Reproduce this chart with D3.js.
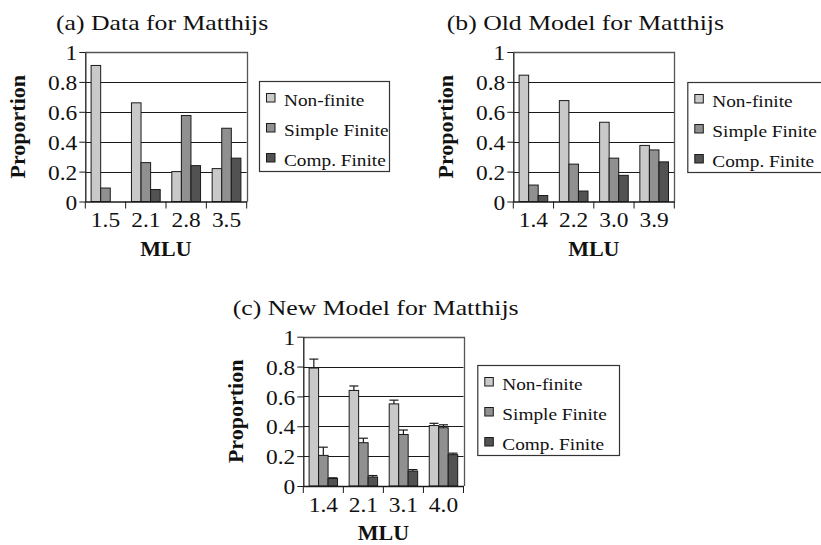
<!DOCTYPE html>
<html>
<head>
<meta charset="utf-8">
<script src="https://cdn.jsdelivr.net/npm/d3@7"></script>
<style>
  body { margin: 0; background: #fff; }
  svg { display: block; }
  text { font-family: "Liberation Serif", "Times New Roman", serif; fill: #111; }
</style>
</head>
<body>
<div id="chart"></div>
<script>
// series + shared ticks
const seriesNames = ["Non-finite", "Simple Finite", "Comp. Finite"];
const seriesColors = ["#c9c9c9", "#909090", "#525252"];
const yTicks = [0, 0.2, 0.4, 0.6, 0.8, 1];

// (a) Data for Matthijs
const mluA = ["1.5", "2.1", "2.8", "3.5"];
const nonFiniteA = [0.91, 0.66, 0.20, 0.22];
const simpleA = [0.09, 0.26, 0.575, 0.49];
const compA = [0, 0.08, 0.24, 0.29];

// (b) Old Model for Matthijs
const mluB = ["1.4", "2.2", "3.0", "3.9"];
const nonFiniteB = [0.845, 0.675, 0.53, 0.375];
const simpleB = [0.11, 0.25, 0.29, 0.345];
const compB = [0.04, 0.07, 0.175, 0.265];

// (c) New Model for Matthijs (with upper error bars)
const mluC = ["1.4", "2.1", "3.1", "4.0"];
const nonFiniteC = [0.79, 0.64, 0.55, 0.405];
const simpleC = [0.205, 0.29, 0.345, 0.39];
const compC = [0.05, 0.06, 0.10, 0.21];
const nonFiniteErrC = [0.85, 0.67, 0.575, 0.42];
const simpleErrC = [0.26, 0.32, 0.375, 0.41];
const compErrC = [0.055, 0.07, 0.11, 0.22];

const width = 821, height = 545;
const SX = 1.17; // the serif text in the picture is a bit wide

const svg = d3.select("#chart")
  .append("svg")
  .attr("width", width)
  .attr("height", height);

// text placed at x,y, stretched sideways
function wideText(g, x, y, str, size, anchor) {
  return g.append("text")
    .attr("transform", `translate(${x},${y}) scale(${SX},1)`)
    .attr("text-anchor", anchor || "start")
    .style("font-size", size + "px")
    .text(str);
}

function drawPanel(p) {
  const g = svg.append("g");

  const x = d3.scaleBand().domain(p.mlu).range([p.x0, p.x1]);
  const xs = d3.scaleBand().domain(seriesNames).range([5.8, x.bandwidth() - 5.8]);
  const y = d3.scaleLinear().domain([0, 1]).range([p.yBot, p.yTop]);

  // title
  wideText(g, p.titleX, p.yTop - 22, p.title, 22);

  // gridlines
  g.append("g")
    .selectAll("line")
    .data(yTicks.filter(d => d > 0 && d < 1))
    .join("line")
    .attr("x1", p.x0).attr("x2", p.x1)
    .attr("y1", d => Math.round(y(d)) + 0.5)
    .attr("y2", d => Math.round(y(d)) + 0.5)
    .attr("stroke", "#1a1a1a");

  // top + right border of the plot box
  g.append("path")
    .attr("d", `M${p.x0},${Math.round(y(1)) + 0.5}H${Math.round(p.x1) + 0.5}V${y(0)}`)
    .attr("fill", "none")
    .attr("stroke", "#555")
    .attr("stroke-width", 1.3);

  // bars
  const rows = [];
  p.mlu.forEach((m, i) => {
    seriesNames.forEach((s, j) => {
      rows.push({ m, s, v: p.values[j][i], e: p.err ? p.err[j][i] : null, c: seriesColors[j] });
    });
  });

  g.append("g")
    .selectAll("rect")
    .data(rows.filter(d => d.v > 0))
    .join("rect")
    .attr("x", d => x(d.m) + xs(d.s))
    .attr("y", d => y(d.v))
    .attr("width", xs.bandwidth())
    .attr("height", d => y(0) - y(d.v))
    .attr("fill", d => d.c)
    .attr("stroke", "#1a1a1a")
    .attr("stroke-width", 1);

  // upper error bars
  if (p.err) {
    const eb = g.append("g").attr("stroke", "#1a1a1a").attr("stroke-width", 1.2);
    const errRows = rows.filter(d => d.e != null);
    eb.selectAll("line.stem")
      .data(errRows)
      .join("line")
      .attr("class", "stem")
      .attr("x1", d => x(d.m) + xs(d.s) + xs.bandwidth() / 2)
      .attr("x2", d => x(d.m) + xs(d.s) + xs.bandwidth() / 2)
      .attr("y1", d => y(d.v))
      .attr("y2", d => y(d.e));
    eb.selectAll("line.cap")
      .data(errRows)
      .join("line")
      .attr("class", "cap")
      .attr("x1", d => x(d.m) + xs(d.s) + xs.bandwidth() / 2 - 4.5)
      .attr("x2", d => x(d.m) + xs(d.s) + xs.bandwidth() / 2 + 4.5)
      .attr("y1", d => y(d.e))
      .attr("y2", d => y(d.e));
  }

  // y axis
  const yAxis = g.append("g")
    .attr("transform", `translate(${p.x0},0)`)
    .call(d3.axisLeft(y).tickValues(yTicks).tickSize(6).tickSizeOuter(0).tickFormat(d => String(d)));
  yAxis.select(".domain").attr("stroke", "#1a1a1a").attr("stroke-width", 1.3);
  yAxis.selectAll(".tick line").attr("stroke", "#1a1a1a");
  yAxis.selectAll(".tick text")
    .attr("x", -8 / SX)
    .attr("dy", "0.38em")
    .attr("transform", `scale(${SX},1)`)
    .style("font-size", "20px")
    .attr("fill", "#111");

  // x axis: labels centred, ticks on the category edges
  const xAxis = g.append("g")
    .attr("transform", `translate(0,${p.yBot})`)
    .call(d3.axisBottom(x).tickSize(0).tickSizeOuter(0));
  xAxis.select(".domain").attr("stroke", "#1a1a1a").attr("stroke-width", 1.3);
  xAxis.selectAll(".tick text")
    .attr("y", 26)
    .attr("dy", null)
    .attr("transform", `scale(${SX},1)`)
    .style("font-size", "20px")
    .attr("fill", "#111");
  g.append("g")
    .selectAll("line")
    .data(p.mlu.map(d => x(d)).concat([p.x1]))
    .join("line")
    .attr("x1", d => d).attr("x2", d => d)
    .attr("y1", p.yBot).attr("y2", p.yBot + 7)
    .attr("stroke", "#1a1a1a");

  // axis titles
  g.append("text")
    .attr("transform", `translate(${p.x0 - 60},${(p.yTop + p.yBot) / 2}) rotate(-90)`)
    .attr("text-anchor", "middle")
    .style("font-size", "22px")
    .style("font-weight", "bold")
    .text("Proportion");
  g.append("text")
    .attr("x", (p.x0 + p.x1) / 2)
    .attr("y", p.yBot + 54)
    .attr("text-anchor", "middle")
    .style("font-size", "22px")
    .style("font-weight", "bold")
    .text("MLU");

  // legend
  const lg = g.append("g").attr("transform", `translate(${p.legX},${p.legY})`);
  lg.append("rect")
    .attr("x", 0.5).attr("y", 0.5)
    .attr("width", p.legW).attr("height", 90)
    .attr("fill", "#fff")
    .attr("stroke", "#333")
    .attr("stroke-width", 1.2);
  seriesNames.forEach((s, j) => {
    lg.append("rect")
      .attr("x", 7.5).attr("y", 12.5 + j * 30)
      .attr("width", 8.5).attr("height", 8.5)
      .attr("fill", seriesColors[j])
      .attr("stroke", "#1a1a1a");
    wideText(lg, 25, 25 + j * 30, s, 16.5);
  });
}

drawPanel({
  title: "(a) Data for Matthijs", titleX: 56,
  mlu: mluA, values: [nonFiniteA, simpleA, compA],
  x0: 85.3, x1: 246.7, yTop: 52, yBot: 201.5,
  legX: 259, legY: 81, legW: 130
});

drawPanel({
  title: "(b) Old Model for Matthijs", titleX: 446.7,
  mlu: mluB, values: [nonFiniteB, simpleB, compB],
  x0: 513.3, x1: 674.3, yTop: 52, yBot: 201.5,
  legX: 687.3, legY: 82, legW: 150
});

drawPanel({
  title: "(c) New Model for Matthijs", titleX: 232.7,
  mlu: mluC, values: [nonFiniteC, simpleC, compC],
  err: [nonFiniteErrC, simpleErrC, compErrC],
  x0: 303.3, x1: 463.5, yTop: 336.7, yBot: 486,
  legX: 477.3, legY: 365, legW: 141.7
});
</script>
</body>
</html>
